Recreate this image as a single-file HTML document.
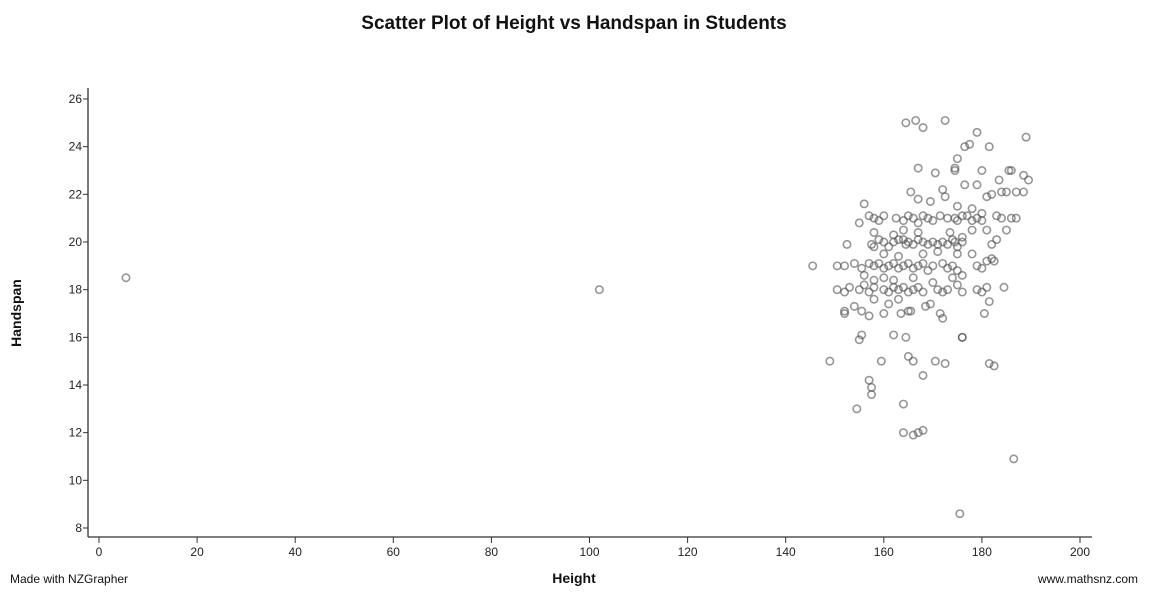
<!DOCTYPE html>
<html><head><meta charset="utf-8"><style>
html,body{margin:0;padding:0;background:#fff;}
svg{display:block;font-family:"Liberation Sans",sans-serif;}
</style></head><body>
<svg id="chart" width="1150" height="592">
<text x="574" y="29" text-anchor="middle" font-size="19" font-weight="bold" fill="#111">Scatter Plot of Height vs Handspan in Students</text>
<text transform="translate(21,313) rotate(-90)" text-anchor="middle" font-size="14" font-weight="bold" fill="#111">Handspan</text>
<text x="574" y="583" text-anchor="middle" font-size="14" font-weight="bold" fill="#111">Height</text>
<text x="10" y="583" font-size="12" fill="#111">Made with NZGrapher</text>
<text x="1138" y="583" text-anchor="end" font-size="12" fill="#111">www.mathsnz.com</text>
<g id="axes"></g>
<g id="points"></g>
</svg>
<script>
const xTicks=[0,20,40,60,80,100,120,140,160,180,200];
const yTicks=[8,10,12,14,16,18,20,22,24,26];
const heights=[5.5,102,145.5,149,154.5,157,157.5,157.5,164,164,166,167,168,175.5,186.5,181.5,182.5,176,176,168,165,166,170.5,172.5,159.5,164.5,162,155,155.5,152,152,154,155.5,157,160,161,163.5,165,165.5,168.5,169.5,171.5,172,180.5,181.5,184.5,182.5,182,
164.5,166.5,168,172.5,179,189,177.5,176.5,181.5,175,167,174.5,174.5,180,185.5,186,188.5,189.5,170.5,183.5,179,176.5,172,172.5,165.5,167,182,184,185,187,188.5,169.5,175,178,180,181,156,
157,158,159,160,162.5,164,165,166,167,168,169,170,171.5,173,174.5,175,176,177,178,179,180,184,183,187,155,185,178,181,173.5,176,
152.5,157.5,159,160,161,162,163,164,164.5,165,166,167,168,169,170,171,172,173,174,174.5,175,176,162,164,167,158,182,183,171,175,178,160,163,168,181,158,186,
150.5,152,154,155.5,157,158,159,160,161,162,163,164,165,166,167,168,169,170,172,173,174,175,176,179,180,156,158,160,162,166,170,
150.5,152,153,155,156,157,158,160,161,162,163,164,165,166,167,168,171,172,173,176,179,180,181,158,163,175,174];
const handspans=[18.5,18,19,15,13,14.2,13.6,13.9,13.2,12,11.9,12,12.1,8.6,10.9,14.9,14.8,16,16,14.4,15.2,15,15,14.9,15,16,16.1,15.9,16.1,17,17.1,17.3,17.1,16.9,17,17.4,17,17.1,17.1,17.3,17.4,17,16.8,17,17.5,18.1,19.2,19.3,
25,25.1,24.8,25.1,24.6,24.4,24.1,24,24,23.5,23.1,23,23.1,23,23,23,22.8,22.6,22.9,22.6,22.4,22.4,22.2,21.9,22.1,21.8,22,22.1,22.1,22.1,22.1,21.7,21.5,21.4,21.2,21.9,21.6,
21.1,21,20.9,21.1,21,20.9,21.1,21,20.8,21.1,21,20.9,21.1,21,21,20.9,21.1,21.1,20.9,21,20.9,21,21.1,21,20.8,20.5,20.5,20.5,20.4,20.2,
19.9,19.9,20.1,20,19.8,20,20.1,20.1,19.9,20,19.9,20.1,20,19.9,20,19.9,20,19.9,20.1,20,19.8,20,20.3,20.5,20.4,20.4,19.9,20.1,19.6,19.5,19.5,19.5,19.4,19.5,19.2,19.8,21,
19,19,19.1,18.9,19.1,19,19.1,18.9,19,19.1,18.9,19,19.1,18.9,19,19.1,18.8,19,19.1,18.9,19,18.8,18.6,19,18.9,18.6,18.4,18.5,18.4,18.5,18.3,
18,17.9,18.1,18,18.2,17.9,18.1,18,17.9,18.1,18,18.1,17.9,18,18.1,17.9,18,17.9,18,17.9,18,17.9,18.1,17.6,17.6,18.2,18.5];
const X0=99,X1=1080,Y0=99,Y1=528,AX=88,AY=537;
function xs(v){return X0+(v-0)/(200-0)*(X1-X0);}
function ys(v){return Y1-(v-8)/(26-8)*(Y1-Y0);}
const NS="http://www.w3.org/2000/svg";
const axes=document.getElementById('axes'),pts=document.getElementById('points');
function mk(tag,attrs,parent){const e=document.createElementNS(NS,tag);for(const k in attrs)e.setAttribute(k,attrs[k]);parent.appendChild(e);return e;}
let l=mk('line',{x1:AX,y1:88,x2:AX,y2:AY,stroke:'#333','stroke-width':1.3},axes);


l=mk('line',{x1:AX,y1:AY,x2:1092,y2:AY,stroke:'#333','stroke-width':1.3},axes);


yTicks.forEach(t=>{const y=ys(t);
 const tk=mk('line',{x1:AX-5,y1:y,x2:AX,y2:y,stroke:'#333'},axes);
 
 
 const tx=mk('text',{x:AX-6,y:y+4,'text-anchor':'end','font-size':12,fill:'#222'},axes);tx.textContent=t;
 
 });
xTicks.forEach(t=>{const x=xs(t);
 const tk=mk('line',{x1:x,y1:AY,x2:x,y2:AY+6,stroke:'#333'},axes);
 
 
 const tx=mk('text',{x:x,y:AY+19,'text-anchor':'middle','font-size':12,fill:'#222'},axes);tx.textContent=t;
 
 });
heights.forEach((h,i)=>{
 const c=mk('circle',{cx:xs(h),cy:ys(handspans[i]),r:3.7,fill:'none',stroke:'rgba(80,80,80,0.6)','stroke-width':1.6},pts);
 
 
});
</script>
</body></html>
